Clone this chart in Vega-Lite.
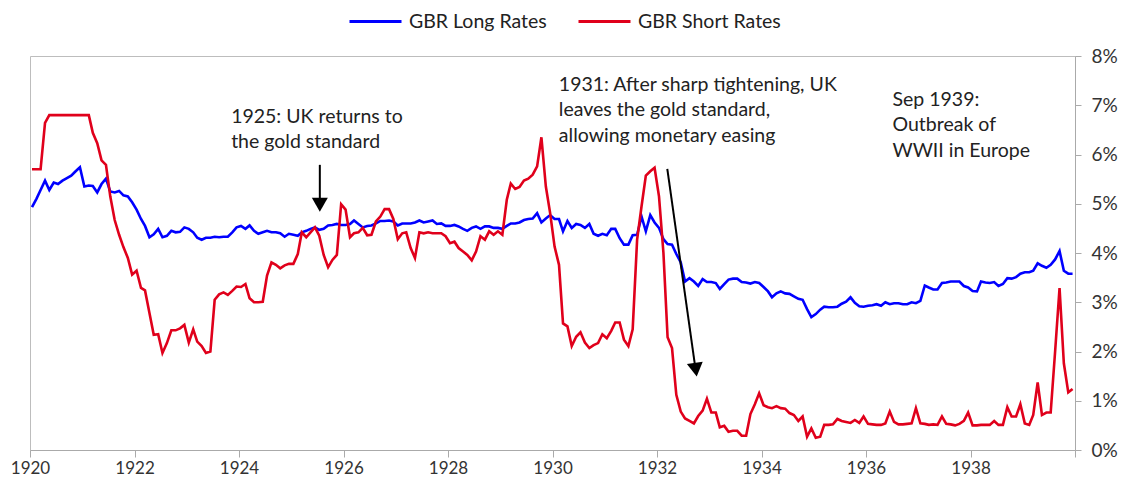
{
  "$schema": "https://vega.github.io/schema/vega-lite/v6.json",
  "width": 1045,
  "height": 394,
  "autosize": {"type": "none"},
  "padding": {"left": 30, "top": 56, "right": 58, "bottom": 41},
  "background": "white",
  "config": {
    "font": "Lato",
    "view": {"stroke": "#bdbdbd", "strokeWidth": 1},
    "axis": {"grid": false, "title": null, "domainColor": "#aaaaaa", "tickColor": "#aaaaaa", "labelColor": "#333333", "labelFont": "Lato"}
  },
  "datasets": {
    "rates": [
      {"date":"1920-01-15","long":4.93,"short":5.70},{"date":"1920-02-15","long":5.10,"short":5.70},{"date":"1920-03-15","long":5.28,"short":5.70},{"date":"1920-04-15","long":5.47,"short":6.64},{"date":"1920-05-15","long":5.28,"short":6.80},{"date":"1920-06-15","long":5.43,"short":6.80},{"date":"1920-07-15","long":5.40,"short":6.80},{"date":"1920-08-15","long":5.47,"short":6.80},{"date":"1920-09-15","long":5.52,"short":6.80},{"date":"1920-10-15","long":5.57,"short":6.80},{"date":"1920-11-15","long":5.66,"short":6.80},{"date":"1920-12-15","long":5.74,"short":6.80},
      {"date":"1921-01-15","long":5.35,"short":6.80},{"date":"1921-02-15","long":5.37,"short":6.80},{"date":"1921-03-15","long":5.36,"short":6.44},{"date":"1921-04-15","long":5.23,"short":6.23},{"date":"1921-05-15","long":5.40,"short":5.88},{"date":"1921-06-15","long":5.51,"short":5.79},{"date":"1921-07-15","long":5.25,"short":5.15},{"date":"1921-08-15","long":5.23,"short":4.67},{"date":"1921-09-15","long":5.26,"short":4.37},{"date":"1921-10-15","long":5.17,"short":4.12},{"date":"1921-11-15","long":5.15,"short":3.90},{"date":"1921-12-15","long":5.03,"short":3.56},
      {"date":"1922-01-15","long":4.88,"short":3.64},{"date":"1922-02-15","long":4.69,"short":3.29},{"date":"1922-03-15","long":4.55,"short":3.24},{"date":"1922-04-15","long":4.32,"short":2.78},{"date":"1922-05-15","long":4.38,"short":2.34},{"date":"1922-06-15","long":4.49,"short":2.35},{"date":"1922-07-15","long":4.32,"short":1.97},{"date":"1922-08-15","long":4.35,"short":2.17},{"date":"1922-09-15","long":4.45,"short":2.43},{"date":"1922-10-15","long":4.42,"short":2.43},{"date":"1922-11-15","long":4.43,"short":2.47},{"date":"1922-12-15","long":4.52,"short":2.54},
      {"date":"1923-01-15","long":4.49,"short":2.18},{"date":"1923-02-15","long":4.42,"short":2.45},{"date":"1923-03-15","long":4.31,"short":2.20},{"date":"1923-04-15","long":4.27,"short":2.11},{"date":"1923-05-15","long":4.31,"short":1.97},{"date":"1923-06-15","long":4.31,"short":2.00},{"date":"1923-07-15","long":4.33,"short":3.05},{"date":"1923-08-15","long":4.32,"short":3.16},{"date":"1923-09-15","long":4.33,"short":3.20},{"date":"1923-10-15","long":4.33,"short":3.15},{"date":"1923-11-15","long":4.42,"short":3.23},{"date":"1923-12-15","long":4.52,"short":3.32},
      {"date":"1924-01-15","long":4.55,"short":3.31},{"date":"1924-02-15","long":4.49,"short":3.37},{"date":"1924-03-15","long":4.56,"short":3.08},{"date":"1924-04-15","long":4.45,"short":3.00},{"date":"1924-05-15","long":4.39,"short":3.00},{"date":"1924-06-15","long":4.42,"short":3.01},{"date":"1924-07-15","long":4.45,"short":3.54},{"date":"1924-08-15","long":4.42,"short":3.81},{"date":"1924-09-15","long":4.42,"short":3.76},{"date":"1924-10-15","long":4.40,"short":3.69},{"date":"1924-11-15","long":4.33,"short":3.75},{"date":"1924-12-15","long":4.39,"short":3.78},
      {"date":"1925-01-15","long":4.37,"short":3.78},{"date":"1925-02-15","long":4.35,"short":3.98},{"date":"1925-03-15","long":4.42,"short":4.42},{"date":"1925-04-15","long":4.45,"short":4.32},{"date":"1925-05-15","long":4.49,"short":4.42},{"date":"1925-06-15","long":4.52,"short":4.52},{"date":"1925-07-15","long":4.47,"short":4.35},{"date":"1925-08-15","long":4.49,"short":3.96},{"date":"1925-09-15","long":4.56,"short":3.71},{"date":"1925-10-15","long":4.57,"short":3.86},{"date":"1925-11-15","long":4.59,"short":3.96},{"date":"1925-12-15","long":4.57,"short":4.99},
      {"date":"1926-01-15","long":4.57,"short":4.88},{"date":"1926-02-15","long":4.59,"short":4.32},{"date":"1926-03-15","long":4.66,"short":4.40},{"date":"1926-04-15","long":4.59,"short":4.42},{"date":"1926-05-15","long":4.52,"short":4.51},{"date":"1926-06-15","long":4.55,"short":4.36},{"date":"1926-07-15","long":4.56,"short":4.37},{"date":"1926-08-15","long":4.60,"short":4.64},{"date":"1926-09-15","long":4.65,"short":4.74},{"date":"1926-10-15","long":4.65,"short":4.89},{"date":"1926-11-15","long":4.66,"short":4.89},{"date":"1926-12-15","long":4.64,"short":4.69},
      {"date":"1927-01-15","long":4.56,"short":4.28},{"date":"1927-02-15","long":4.60,"short":4.40},{"date":"1927-03-15","long":4.60,"short":4.42},{"date":"1927-04-15","long":4.60,"short":4.10},{"date":"1927-05-15","long":4.62,"short":3.90},{"date":"1927-06-15","long":4.66,"short":4.42},{"date":"1927-07-15","long":4.62,"short":4.40},{"date":"1927-08-15","long":4.64,"short":4.42},{"date":"1927-09-15","long":4.66,"short":4.40},{"date":"1927-10-15","long":4.59,"short":4.40},{"date":"1927-11-15","long":4.60,"short":4.40},{"date":"1927-12-15","long":4.55,"short":4.34},
      {"date":"1928-01-15","long":4.55,"short":4.20},{"date":"1928-02-15","long":4.57,"short":4.23},{"date":"1928-03-15","long":4.54,"short":4.10},{"date":"1928-04-15","long":4.49,"short":4.03},{"date":"1928-05-15","long":4.45,"short":3.96},{"date":"1928-06-15","long":4.51,"short":3.85},{"date":"1928-07-15","long":4.54,"short":4.03},{"date":"1928-08-15","long":4.49,"short":4.34},{"date":"1928-09-15","long":4.54,"short":4.27},{"date":"1928-10-15","long":4.54,"short":4.44},{"date":"1928-11-15","long":4.51,"short":4.37},{"date":"1928-12-15","long":4.51,"short":4.44},
      {"date":"1929-01-15","long":4.49,"short":4.37},{"date":"1929-02-15","long":4.55,"short":5.08},{"date":"1929-03-15","long":4.60,"short":5.41},{"date":"1929-04-15","long":4.60,"short":5.30},{"date":"1929-05-15","long":4.62,"short":5.34},{"date":"1929-06-15","long":4.67,"short":5.47},{"date":"1929-07-15","long":4.69,"short":5.51},{"date":"1929-08-15","long":4.70,"short":5.59},{"date":"1929-09-15","long":4.81,"short":5.76},{"date":"1929-10-15","long":4.62,"short":6.35},{"date":"1929-11-15","long":4.70,"short":5.35},{"date":"1929-12-15","long":4.77,"short":4.81},
      {"date":"1930-01-15","long":4.69,"short":4.13},{"date":"1930-02-15","long":4.69,"short":3.76},{"date":"1930-03-15","long":4.44,"short":2.57},{"date":"1930-04-15","long":4.65,"short":2.51},{"date":"1930-05-15","long":4.51,"short":2.11},{"date":"1930-06-15","long":4.59,"short":2.30},{"date":"1930-07-15","long":4.57,"short":2.39},{"date":"1930-08-15","long":4.51,"short":2.18},{"date":"1930-09-15","long":4.59,"short":2.07},{"date":"1930-10-15","long":4.39,"short":2.13},{"date":"1930-11-15","long":4.35,"short":2.17},{"date":"1930-12-15","long":4.39,"short":2.35},
      {"date":"1931-01-15","long":4.36,"short":2.27},{"date":"1931-02-15","long":4.49,"short":2.42},{"date":"1931-03-15","long":4.49,"short":2.59},{"date":"1931-04-15","long":4.30,"short":2.59},{"date":"1931-05-15","long":4.17,"short":2.24},{"date":"1931-06-15","long":4.17,"short":2.11},{"date":"1931-07-15","long":4.36,"short":2.45},{"date":"1931-08-15","long":4.37,"short":4.27},{"date":"1931-09-15","long":4.74,"short":4.95},{"date":"1931-10-15","long":4.44,"short":5.57},{"date":"1931-11-15","long":4.77,"short":5.66},{"date":"1931-12-15","long":4.62,"short":5.73},
      {"date":"1932-01-15","long":4.51,"short":5.15},{"date":"1932-02-15","long":4.28,"short":4.00},{"date":"1932-03-15","long":4.18,"short":2.29},{"date":"1932-04-15","long":4.17,"short":2.07},{"date":"1932-05-15","long":3.98,"short":1.12},{"date":"1932-06-15","long":3.81,"short":0.78},{"date":"1932-07-15","long":3.42,"short":0.64},{"date":"1932-08-15","long":3.49,"short":0.59},{"date":"1932-09-15","long":3.42,"short":0.54},{"date":"1932-10-15","long":3.33,"short":0.69},{"date":"1932-11-15","long":3.47,"short":0.80},{"date":"1932-12-15","long":3.41,"short":1.04},
      {"date":"1933-01-15","long":3.41,"short":0.76},{"date":"1933-02-15","long":3.39,"short":0.76},{"date":"1933-03-15","long":3.27,"short":0.46},{"date":"1933-04-15","long":3.37,"short":0.49},{"date":"1933-05-15","long":3.46,"short":0.37},{"date":"1933-06-15","long":3.48,"short":0.39},{"date":"1933-07-15","long":3.48,"short":0.39},{"date":"1933-08-15","long":3.41,"short":0.29},{"date":"1933-09-15","long":3.40,"short":0.29},{"date":"1933-10-15","long":3.38,"short":0.73},{"date":"1933-11-15","long":3.41,"short":0.93},{"date":"1933-12-15","long":3.39,"short":1.15},
      {"date":"1934-01-15","long":3.31,"short":0.91},{"date":"1934-02-15","long":3.22,"short":0.87},{"date":"1934-03-15","long":3.10,"short":0.85},{"date":"1934-04-15","long":3.18,"short":0.89},{"date":"1934-05-15","long":3.22,"short":0.85},{"date":"1934-06-15","long":3.18,"short":0.84},{"date":"1934-07-15","long":3.17,"short":0.75},{"date":"1934-08-15","long":3.12,"short":0.71},{"date":"1934-09-15","long":3.07,"short":0.59},{"date":"1934-10-15","long":3.05,"short":0.68},{"date":"1934-11-15","long":2.86,"short":0.27},{"date":"1934-12-15","long":2.70,"short":0.44},
      {"date":"1935-01-15","long":2.76,"short":0.25},{"date":"1935-02-15","long":2.85,"short":0.27},{"date":"1935-03-15","long":2.91,"short":0.51},{"date":"1935-04-15","long":2.90,"short":0.51},{"date":"1935-05-15","long":2.90,"short":0.52},{"date":"1935-06-15","long":2.91,"short":0.63},{"date":"1935-07-15","long":2.97,"short":0.59},{"date":"1935-08-15","long":3.01,"short":0.57},{"date":"1935-09-15","long":3.10,"short":0.55},{"date":"1935-10-15","long":2.99,"short":0.61},{"date":"1935-11-15","long":2.92,"short":0.55},{"date":"1935-12-15","long":2.91,"short":0.68},
      {"date":"1936-01-15","long":2.93,"short":0.53},{"date":"1936-02-15","long":2.94,"short":0.52},{"date":"1936-03-15","long":2.96,"short":0.51},{"date":"1936-04-15","long":2.93,"short":0.51},{"date":"1936-05-15","long":3.00,"short":0.54},{"date":"1936-06-15","long":2.96,"short":0.78},{"date":"1936-07-15","long":2.98,"short":0.57},{"date":"1936-08-15","long":2.98,"short":0.52},{"date":"1936-09-15","long":2.96,"short":0.52},{"date":"1936-10-15","long":2.96,"short":0.53},{"date":"1936-11-15","long":3.00,"short":0.54},{"date":"1936-12-15","long":2.98,"short":0.85},
      {"date":"1937-01-15","long":3.03,"short":0.54},{"date":"1937-02-15","long":3.34,"short":0.53},{"date":"1937-03-15","long":3.30,"short":0.51},{"date":"1937-04-15","long":3.26,"short":0.52},{"date":"1937-05-15","long":3.26,"short":0.51},{"date":"1937-06-15","long":3.39,"short":0.68},{"date":"1937-07-15","long":3.40,"short":0.53},{"date":"1937-08-15","long":3.42,"short":0.52},{"date":"1937-09-15","long":3.42,"short":0.50},{"date":"1937-10-15","long":3.42,"short":0.53},{"date":"1937-11-15","long":3.33,"short":0.59},{"date":"1937-12-15","long":3.30,"short":0.76},
      {"date":"1938-01-15","long":3.23,"short":0.50},{"date":"1938-02-15","long":3.22,"short":0.50},{"date":"1938-03-15","long":3.42,"short":0.51},{"date":"1938-04-15","long":3.40,"short":0.51},{"date":"1938-05-15","long":3.39,"short":0.51},{"date":"1938-06-15","long":3.41,"short":0.59},{"date":"1938-07-15","long":3.33,"short":0.51},{"date":"1938-08-15","long":3.37,"short":0.51},{"date":"1938-09-15","long":3.49,"short":0.87},{"date":"1938-10-15","long":3.48,"short":0.68},{"date":"1938-11-15","long":3.51,"short":0.68},{"date":"1938-12-15","long":3.58,"short":0.93},
      {"date":"1939-01-15","long":3.61,"short":0.54},{"date":"1939-02-15","long":3.61,"short":0.51},{"date":"1939-03-15","long":3.64,"short":0.71},{"date":"1939-04-15","long":3.79,"short":1.37},{"date":"1939-05-15","long":3.74,"short":0.71},{"date":"1939-06-15","long":3.70,"short":0.76},{"date":"1939-07-15","long":3.76,"short":0.76},{"date":"1939-08-15","long":3.87,"short":2.00},{"date":"1939-09-15","long":4.04,"short":3.29},{"date":"1939-10-15","long":3.64,"short":1.76},{"date":"1939-11-15","long":3.58,"short":1.17},{"date":"1939-12-15","long":3.58,"short":1.24}
    ],
    "notes": [
      {"date":"1923-11-07","value":6.77,"text":"1925: UK returns to|the gold standard"},
      {"date":"1930-02-14","value":7.42,"text":"1931: After sharp tightening, UK|leaves the gold standard,|allowing monetary easing"},
      {"date":"1936-07-04","value":7.11,"text":"Sep 1939:|Outbreak of|WWII in Europe"}
    ],
    "arrows": [
      {"id":"a1","date":"1925-07-19","value":5.79},
      {"id":"a1","date":"1925-07-19","value":5.08},
      {"id":"a2","date":"1932-03-13","value":5.71},
      {"id":"a2","date":"1932-09-22","value":1.73}
    ],
    "heads": [
      {"id":"a1","date":"1925-07-19","value":4.98},
      {"id":"a2","date":"1932-09-28","value":1.63}
    ]
  },
  "layer": [
    {
      "data": {"name": "rates"},
      "transform": [{"fold": ["long", "short"], "as": ["series", "rate"]}],
      "mark": {"type": "line", "strokeWidth": 2.6, "clip": true},
      "encoding": {
        "x": {
          "field": "date", "type": "temporal",
          "scale": {"type": "utc", "domain": [{"year": 1920, "month": 1, "date": 1, "utc": true}, {"year": 1940, "month": 1, "date": 1, "utc": true}]},
          "axis": {
            "orient": "bottom", "format": "%Y", "formatType": "utc",
            "values": [{"year":1920,"month":1,"date":1,"utc":true},{"year":1922,"month":1,"date":1,"utc":true},{"year":1924,"month":1,"date":1,"utc":true},{"year":1926,"month":1,"date":1,"utc":true},{"year":1928,"month":1,"date":1,"utc":true},{"year":1930,"month":1,"date":1,"utc":true},{"year":1932,"month":1,"date":1,"utc":true},{"year":1934,"month":1,"date":1,"utc":true},{"year":1936,"month":1,"date":1,"utc":true},{"year":1938,"month":1,"date":1,"utc":true},{"year":1940,"month":1,"date":1,"utc":true}],
            "labelExpr": "datum.label == '1940' ? '' : datum.label",
            "tickSize": 7, "labelFontSize": 17, "labelPadding": 3, "labelFlush": false, "labelOverlap": false
          }
        },
        "y": {
          "field": "rate", "type": "quantitative",
          "scale": {"domain": [0, 8], "nice": false},
          "axis": {
            "orient": "right", "values": [0,1,2,3,4,5,6,7,8],
            "labelExpr": "datum.value + '%'",
            "tickSize": 6, "labelFontSize": 19, "labelPadding": 10, "labelBaseline": "middle"
          }
        },
        "color": {
          "field": "series", "type": "nominal",
          "scale": {"domain": ["long", "short"], "range": ["#0000ff", "#e0001b"]},
          "legend": {
            "title": null, "orient": "none", "direction": "horizontal",
            "legendX": 318, "legendY": -62, "padding": 0,
            "symbolType": "stroke", "symbolSize": 2704, "symbolStrokeWidth": 3,
            "labelFontSize": 19.5, "labelColor": "#222222", "labelOffset": 6, "columnPadding": 25,
            "labelExpr": "datum.label == 'long' ? 'GBR Long Rates' : 'GBR Short Rates'"
          }
        }
      }
    },
    {
      "data": {"name": "arrows"},
      "mark": {"type": "line", "color": "black", "strokeWidth": 2},
      "encoding": {
        "x": {"field": "date", "type": "temporal"},
        "y": {"field": "value", "type": "quantitative"},
        "detail": {"field": "id", "type": "nominal"}
      }
    },
    {
      "data": {"name": "heads"},
      "transform": [{"filter": "datum.id == 'a1'"}],
      "mark": {"type": "point", "shape": "triangle-down", "filled": true, "color": "black", "opacity": 1, "size": 256},
      "encoding": {
        "x": {"field": "date", "type": "temporal"},
        "y": {"field": "value", "type": "quantitative"}
      }
    },
    {
      "data": {"name": "heads"},
      "transform": [{"filter": "datum.id == 'a2'"}],
      "mark": {"type": "point", "shape": "triangle-down", "filled": true, "color": "black", "opacity": 1, "size": 256, "angle": 352},
      "encoding": {
        "x": {"field": "date", "type": "temporal"},
        "y": {"field": "value", "type": "quantitative"}
      }
    },
    {
      "data": {"name": "notes"},
      "mark": {"type": "text", "align": "left", "baseline": "middle", "fontSize": 19.5, "lineHeight": 25.5, "lineBreak": "|", "color": "#222222", "font": "Lato"},
      "encoding": {
        "x": {"field": "date", "type": "temporal"},
        "y": {"field": "value", "type": "quantitative"},
        "text": {"field": "text", "type": "nominal"}
      }
    }
  ]
}
